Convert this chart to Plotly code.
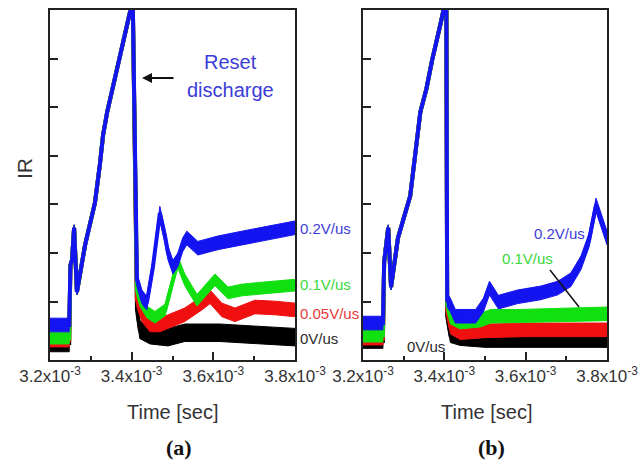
import plotly.graph_objects as go

# ---------------- data (time in ms, IR in arbitrary units) ----------------
SERIES = ["0V/us", "0.05V/us", "0.1V/us", "0.2V/us"]

# Panel (a)
T_BASE_A = [3.200, 3.247]
BASE_A = {"0V/us": 0.15, "0.05V/us": 0.21, "0.1V/us": 0.25, "0.2V/us": 0.52}
RISE_T_A = [3.250, 3.254, 3.259, 3.266, 3.286, 3.310, 3.322, 3.330, 3.340, 3.359, 3.379, 3.396, 3.403]
RISE_V_A = [1.75, 1.86, 2.52, 1.20, 2.17, 3.03, 3.81, 4.43, 4.90, 5.62, 6.34, 6.96, 7.00]

POST_T_A_BLUE = [3.413, 3.425, 3.437, 3.452, 3.462, 3.469, 3.482, 3.489, 3.501, 3.513, 3.525, 3.535, 3.562, 3.611, 3.670, 3.734, 3.800]
POST_V_A_BLUE = [1.45, 1.10, 0.97, 1.71, 2.41, 2.82, 2.33, 2.00, 1.71, 1.86, 2.17, 2.31, 2.10, 2.21, 2.31, 2.41, 2.52]
POST_T_A_GREEN = [3.413, 3.420, 3.437, 3.457, 3.482, 3.499, 3.513, 3.530, 3.560, 3.582, 3.604, 3.636, 3.670, 3.719, 3.800]
POST_V_A_GREEN = [1.24, 1.03, 0.79, 0.68, 0.83, 1.38, 1.82, 1.45, 1.03, 1.24, 1.45, 1.18, 1.24, 1.28, 1.34]
POST_T_A_RED = [3.413, 3.425, 3.445, 3.469, 3.499, 3.530, 3.572, 3.592, 3.621, 3.653, 3.702, 3.751, 3.800]
POST_V_A_RED = [1.03, 0.73, 0.52, 0.52, 0.62, 0.73, 0.97, 1.10, 0.83, 0.73, 0.89, 0.87, 0.83]
POST_T_A_BLACK = [3.413, 3.420, 3.445, 3.489, 3.530, 3.616, 3.714, 3.800]
POST_V_A_BLACK = [0.83, 0.42, 0.31, 0.27, 0.36, 0.36, 0.31, 0.27]
NOISE_A = {"0V/us": 0.18, "0.05V/us": 0.14, "0.1V/us": 0.12, "0.2V/us": 0.14}

# Panel (b)
T_BASE_B = [3.200, 3.249]
BASE_B = {"0V/us": 0.19, "0.05V/us": 0.25, "0.1V/us": 0.31, "0.2V/us": 0.56}
RISE_T_B = [3.252, 3.262, 3.269, 3.286, 3.316, 3.331, 3.341, 3.356, 3.370, 3.390, 3.398, 3.405]
RISE_V_B = [1.82, 2.52, 1.30, 2.31, 3.17, 4.24, 4.90, 5.38, 5.97, 6.69, 7.00, 7.00]

POST_T_B_BLUE = [3.407, 3.415, 3.427, 3.477, 3.496, 3.511, 3.533, 3.580, 3.637, 3.679, 3.711, 3.736, 3.756, 3.773, 3.785, 3.800]
POST_V_B_BLUE = [1.03, 0.93, 0.70, 0.70, 0.93, 1.28, 0.99, 1.10, 1.18, 1.28, 1.45, 1.80, 2.27, 2.99, 2.68, 2.31]
POST_T_B_GREEN = [3.407, 3.415, 3.439, 3.489, 3.514, 3.588, 3.686, 3.800]
POST_V_B_GREEN = [0.93, 0.68, 0.58, 0.62, 0.70, 0.70, 0.73, 0.75]
POST_T_B_RED = [3.407, 3.415, 3.439, 3.500, 3.600, 3.800]
POST_V_B_RED = [0.83, 0.48, 0.36, 0.40, 0.42, 0.42]
POST_T_B_BLACK = [3.407, 3.415, 3.439, 3.500, 3.800]
POST_V_B_BLACK = [0.70, 0.31, 0.25, 0.21, 0.21]
NOISE_B = {"0V/us": 0.15, "0.05V/us": 0.14, "0.1V/us": 0.14, "0.2V/us": 0.14}
RISE_NOISE = 0.06

X_TICKS = [3.2, 3.4, 3.6, 3.8]
X_MINOR = [3.3, 3.5, 3.7]
Y_TICKS = [1, 2, 3, 4, 5, 6]

# ---------------- styles ----------------
COLORS = {"0V/us": "#000000", "0.05V/us": "#f01010", "0.1V/us": "#10e010", "0.2V/us": "#1414f0"}
TEXT_COLORS = {"0V/us": "#2a2a2a", "0.05V/us": "#e83a3a", "0.1V/us": "#3ad83a", "0.2V/us": "#3c3cd8"}
FONT = "Liberation Sans, Arial, sans-serif"
W, H = 640, 461

POST_A = {"0V/us": (POST_T_A_BLACK, POST_V_A_BLACK), "0.05V/us": (POST_T_A_RED, POST_V_A_RED),
          "0.1V/us": (POST_T_A_GREEN, POST_V_A_GREEN), "0.2V/us": (POST_T_A_BLUE, POST_V_A_BLUE)}
POST_B = {"0V/us": (POST_T_B_BLACK, POST_V_B_BLACK), "0.05V/us": (POST_T_B_RED, POST_V_B_RED),
          "0.1V/us": (POST_T_B_GREEN, POST_V_B_GREEN), "0.2V/us": (POST_T_B_BLUE, POST_V_B_BLUE)}

fig = go.Figure()


def add_panel(xa, ya, t_base, base, rise_t, rise_v, post, noise):
    for s in SERIES:
        pt, pv = post[s]
        t = list(t_base) + list(rise_t) + list(pt)
        v = [base[s]] * len(t_base) + list(rise_v) + list(pv)
        sp = [noise[s]] * len(t_base) + [RISE_NOISE] * len(rise_t) + [noise[s]] * len(pt)
        ts = [x * 1e-3 for x in t]
        up = [a + b for a, b in zip(v, sp)]
        lo = [a - b for a, b in zip(v, sp)]
        fig.add_trace(go.Scatter(x=ts + ts[::-1], y=up + lo[::-1], fill="toself",
                                 fillcolor=COLORS[s], mode="lines",
                                 line=dict(color=COLORS[s], width=1),
                                 xaxis=xa, yaxis=ya, hoverinfo="skip", showlegend=False))
        fig.add_trace(go.Scatter(x=ts, y=v, mode="lines", line=dict(color=COLORS[s], width=4),
                                 xaxis=xa, yaxis=ya, name=s, showlegend=False))


add_panel("x", "y", T_BASE_A, BASE_A, RISE_T_A, RISE_V_A, POST_A, NOISE_A)
add_panel("x2", "y2", T_BASE_B, BASE_B, RISE_T_B, RISE_V_B, POST_B, NOISE_B)

tickvals = [v * 1e-3 for v in X_TICKS]
ticktext = [f"{v:.1f}x10<sup>-3</sup>" for v in X_TICKS]
xcommon = dict(range=[3.2e-3, 3.8e-3], tickmode="array", tickvals=tickvals, ticktext=ticktext,
               ticks="inside", ticklen=8, tickwidth=1.5, tickcolor="#222",
               minor=dict(tickmode="array", tickvals=[v * 1e-3 for v in X_MINOR], ticks="inside",
                          ticklen=4, tickwidth=1.5, tickcolor="#222"),
               showline=True, mirror=True, linecolor="#222", linewidth=1.8,
               showgrid=False, zeroline=False, automargin=False,
               tickfont=dict(family=FONT, size=17, color="#333"))
ycommon = dict(range=[-0.2, 7.0], tickmode="array", tickvals=Y_TICKS, showticklabels=False,
               ticks="inside", ticklen=8, tickwidth=1.5, tickcolor="#222",
               showline=True, mirror=True, linecolor="#222", linewidth=1.8,
               showgrid=False, zeroline=False, automargin=False)

ydom = [1 - 360 / H, 1 - 10 / H]
fig.update_layout(
    width=W, height=H, autosize=False, margin=dict(l=0, r=0, t=0, b=0, pad=0),
    paper_bgcolor="white", plot_bgcolor="white", showlegend=False,
    font=dict(family=FONT, color="#333"),
    xaxis=dict(domain=[50 / W, 295 / W], anchor="y", **xcommon),
    yaxis=dict(domain=ydom, anchor="x", **ycommon),
    xaxis2=dict(domain=[363 / W, 607 / W], anchor="y2", **xcommon),
    yaxis2=dict(domain=ydom, anchor="x2", **ycommon),
)


def px(x):
    return x / W


def py(y):
    return 1 - y / H


ann = []
ann.append(dict(x=px(25), y=py(169), text="IR", textangle=-90, showarrow=False,
                font=dict(size=21, color="#333", family=FONT)))
for cx in (173, 487):
    ann.append(dict(x=px(cx), y=py(412), text="Time [sec]", showarrow=False,
                    font=dict(size=20, color="#333", family=FONT)))
ann.append(dict(x=px(179), y=py(447), text="<b>(a)</b>", showarrow=False,
                font=dict(size=22, color="#111", family="Liberation Serif, Times New Roman, serif")))
ann.append(dict(x=px(491), y=py(447), text="<b>(b)</b>", showarrow=False,
                font=dict(size=22, color="#111", family="Liberation Serif, Times New Roman, serif")))
ann.append(dict(x=px(230), y=py(62), text="Reset", showarrow=False,
                font=dict(size=20, color="#3c3cd8", family=FONT)))
ann.append(dict(x=px(230), y=py(90), text="discharge", showarrow=False,
                font=dict(size=20, color="#3c3cd8", family=FONT)))
# panel (a) labels
for s, yy in (("0.2V/us", 228), ("0.1V/us", 284), ("0.05V/us", 313), ("0V/us", 338)):
    ann.append(dict(x=px(298), y=py(yy), text=s, xanchor="left", showarrow=False,
                    font=dict(size=15, color=TEXT_COLORS[s], family=FONT)))
# panel (b) labels
for s, xx, yy in (("0.2V/us", 559, 233), ("0.1V/us", 527, 258), ("0V/us", 426, 346)):
    ann.append(dict(x=px(xx), y=py(yy), text=s, showarrow=False,
                    font=dict(size=15, color=TEXT_COLORS[s], family=FONT)))
for a in ann:
    a.setdefault("xanchor", "center")
    a.setdefault("yanchor", "middle")
ann.append(dict(x=px(142), y=py(78), ax=33, ay=0, text="", showarrow=True, arrowhead=2,
                arrowsize=1, arrowwidth=2, arrowcolor="#111"))
for a in ann:
    a.setdefault("xref", "paper")
    a.setdefault("yref", "paper")
fig.update_layout(annotations=ann)
fig.add_shape(type="line", xref="paper", yref="paper", x0=px(550), y0=py(270), x1=px(579), y1=py(307),
              line=dict(color="#111", width=1.5))

fig.write_html("out.html", config={"displayModeBar": False},
               post_script="document.body.style.margin='0';document.body.style.overflow='hidden';")
